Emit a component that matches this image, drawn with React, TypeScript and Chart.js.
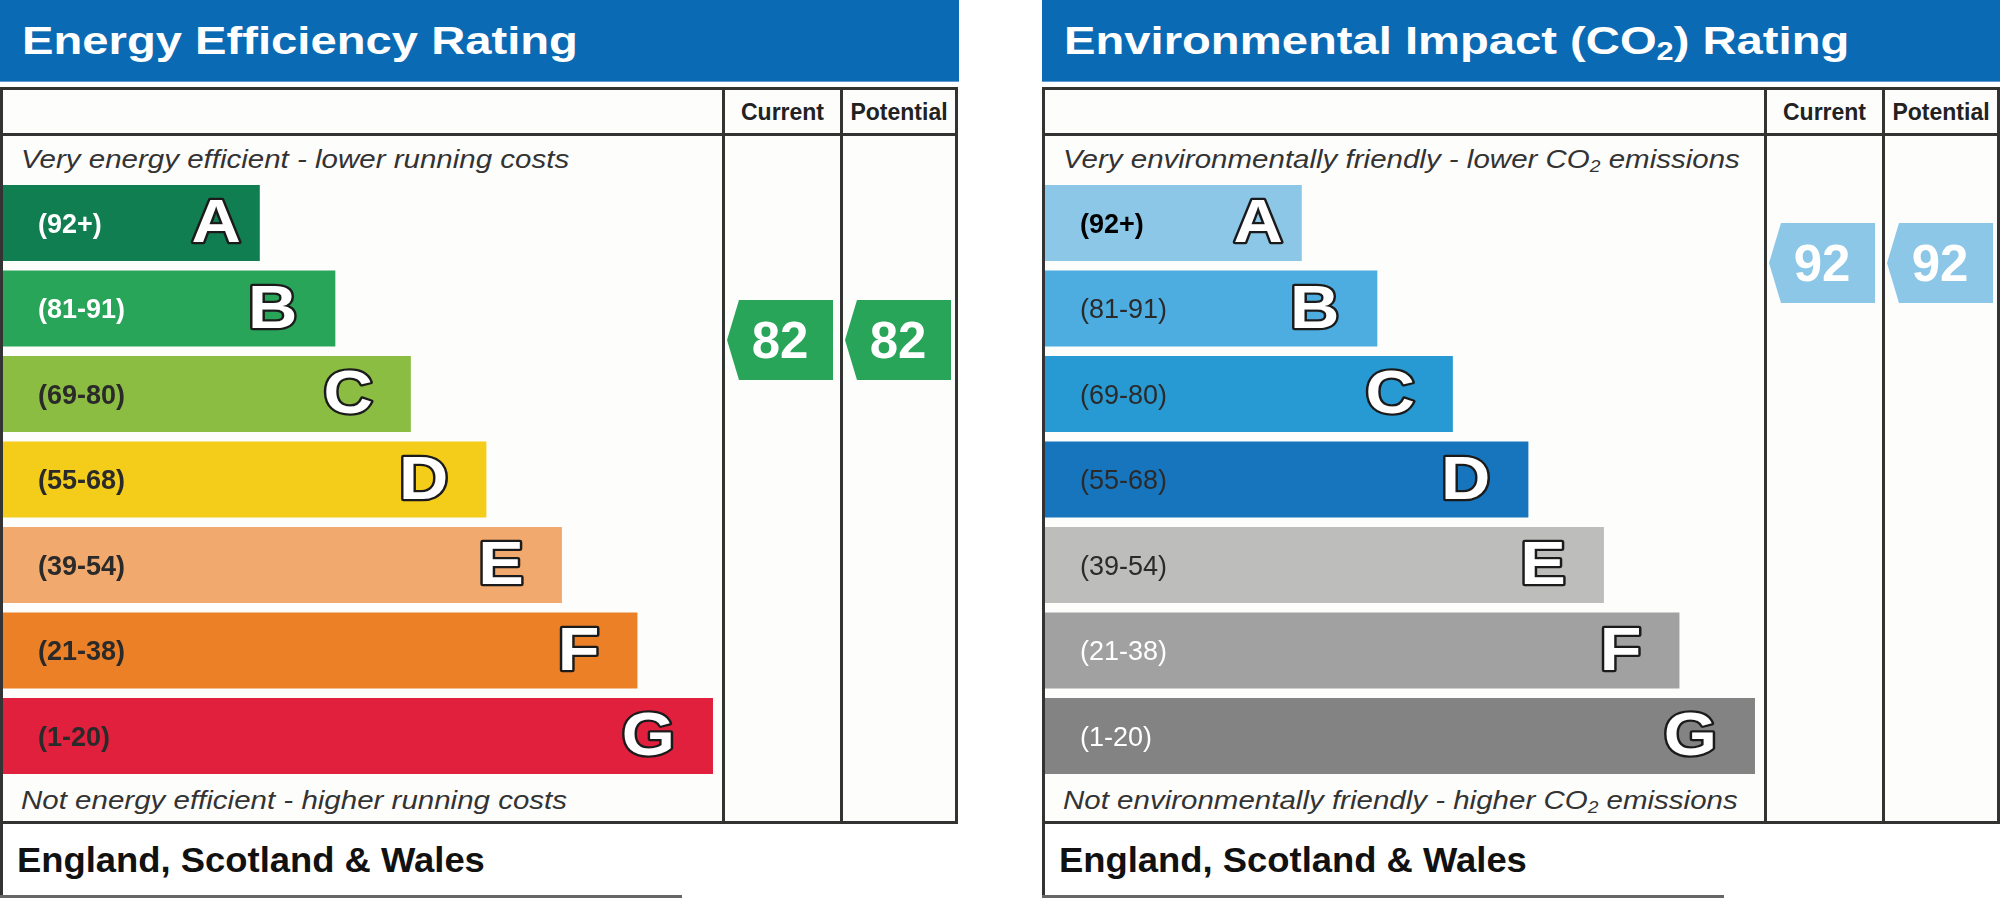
import React, { useEffect, useRef } from 'react'
import { Chart, registerables } from 'chart.js'

Chart.register(...registerables)

// band data, shared by both ratings
const BAND_LETTERS = ['A', 'B', 'C', 'D', 'E', 'F', 'G']
const BAND_RANGES = ['(92+)', '(81-91)', '(69-80)', '(55-68)', '(39-54)', '(21-38)', '(1-20)']
const BAND_MIN = [92, 81, 69, 55, 39, 21, 1]
const BAND_LENGTHS = [34, 44, 54, 64, 74, 84, 94]

const ENERGY_COLOURS = ['#107e51', '#29a55a', '#8cbd43', '#f4cc1a', '#f1a96d', '#ec8027', '#e1203d']
const ENERGY_TEXT = ['#ffffff', '#ffffff', '#2a2a2a', '#2a2a2a', '#2a2a2a', '#2a2a2a', '#2a2a2a']
const ENERGY_WEIGHTS = ['bold', 'bold', 'bold', 'bold', 'bold', 'bold', 'bold']

const ENV_COLOURS = ['#8cc7e8', '#4dade0', '#289ad3', '#1675bd', '#bdbdbc', '#a1a1a1', '#838383']
const ENV_TEXT = ['#000000', '#2a2a2a', '#2a2a2a', '#2a2a2a', '#2a2a2a', '#ffffff', '#ffffff']
const ENV_WEIGHTS = ['bold', 'normal', 'normal', 'normal', 'normal', 'normal', 'normal']

const ENERGY_CURRENT = 82
const ENERGY_POTENTIAL = 82
const ENV_CURRENT = 92
const ENV_POTENTIAL = 92

// layout
const PANEL_W = 958
const TABLE_TOP = 87
const TABLE_BOTTOM = 824
const COL_CURRENT = 722
const COL_POTENTIAL = 840
const CANVAS_TOP = 136
const CANVAS_H = 687
const FONT = '"Liberation Sans", Arial, Helvetica, sans-serif'

const bandText = {
  id: 'bandText',
  afterDatasetsDraw(chart: any, _args: any, opts: any) {
    const { ctx } = chart
    const meta = chart.getDatasetMeta(0)
    meta.data.forEach((bar: any, i: number) => {
      const { x, y, base } = bar.getProps(['x', 'y', 'base'], true)
      ctx.save()
      ctx.textBaseline = 'alphabetic'
      ctx.textAlign = 'left'
      ctx.font = `${opts.weights[i]} 27px ${FONT}`
      ctx.fillStyle = opts.textColours[i]
      ctx.fillText(BAND_RANGES[i], base + 35, y + 9.5)

      // big band letter, white with a dark outline, slightly widened
      const lx = x - (i === 0 ? 19 : 38)
      const ly = y + 19
      ctx.translate(lx, ly)
      ctx.scale(1.12, 1)
      ctx.font = `bold 61px ${FONT}`
      ctx.textAlign = 'right'
      ctx.lineJoin = 'round'
      ctx.lineWidth = 4.5
      ctx.strokeStyle = '#1b1b1b'
      ctx.strokeText(BAND_LETTERS[i], 0, 0)
      ctx.fillStyle = '#ffffff'
      ctx.fillText(BAND_LETTERS[i], 0, 0)
      ctx.restore()
    })
  },
}

const ratingArrows = {
  id: 'ratingArrows',
  afterDatasetsDraw(chart: any, _args: any, opts: any) {
    const { ctx } = chart
    const scale = chart.scales.rating
    const cols = [COL_CURRENT, COL_POTENTIAL]
    const values = [opts.current, opts.potential]
    values.forEach((v: number, i: number) => {
      const cy = scale.getPixelForValue(v)
      const left = cols[i] + 5
      const w = 106
      const h = 80
      const notch = 12
      const band = BAND_MIN.findIndex(m => v >= m)
      ctx.save()
      ctx.beginPath()
      ctx.moveTo(left + notch, cy - h / 2)
      ctx.lineTo(left + w, cy - h / 2)
      ctx.lineTo(left + w, cy + h / 2)
      ctx.lineTo(left + notch, cy + h / 2)
      ctx.lineTo(left, cy)
      ctx.closePath()
      ctx.fillStyle = opts.colours[band]
      ctx.fill()
      ctx.font = `bold 51px ${FONT}`
      ctx.fillStyle = '#ffffff'
      ctx.textAlign = 'center'
      ctx.textBaseline = 'alphabetic'
      ctx.fillText(String(v), left + w / 2, cy + 18)
      ctx.restore()
    })
  },
}

interface PanelProps {
  left: number
  titleWidth: number
  title: React.ReactNode
  topNote: React.ReactNode
  bottomNote: React.ReactNode
  colours: string[]
  textColours: string[]
  weights: string[]
  current: number
  potential: number
}

function RatingPanel(p: PanelProps) {
  const canvasRef = useRef<HTMLCanvasElement>(null)
  const chartRef = useRef<Chart | null>(null)

  useEffect(() => {
    if (!canvasRef.current) return
    chartRef.current?.destroy()

    chartRef.current = new Chart(canvasRef.current, {
      type: 'bar',
      data: {
        labels: BAND_LETTERS,
        datasets: [{
          data: BAND_LENGTHS,
          backgroundColor: p.colours,
          borderWidth: 0,
          barPercentage: 0.89,
          categoryPercentage: 1,
        }],
      },
      options: {
        indexAxis: 'y',
        responsive: false,
        animation: false,
        events: [],
        layout: { padding: { left: 3, right: PANEL_W - 3 - 755.3, top: 44.25, bottom: 44.25 } },
        plugins: {
          legend: { display: false },
          tooltip: { enabled: false },
          bandText: { textColours: p.textColours, weights: p.weights },
          ratingArrows: { current: p.current, potential: p.potential, colours: p.colours },
        } as any,
        scales: {
          x: { type: 'linear', min: 0, max: 100, display: false },
          y: { type: 'category', display: false },
          // rating scale for the arrows; offset off so the ends map exactly
          rating: {
            type: 'linear', axis: 'y', position: 'right',
            min: 25, max: 102.75, offset: false, display: false,
          },
        } as any,
      },
      plugins: [bandText, ratingArrows],
    })

    return () => {
      chartRef.current?.destroy()
      chartRef.current = null
    }
  }, [p.colours, p.textColours, p.weights, p.current, p.potential])

  const abs = (style: React.CSSProperties): React.CSSProperties => ({ position: 'absolute', ...style })

  return (
    <>
      {/* title bar */}
      <div style={abs({
        left: p.left, top: 0, width: p.titleWidth, height: 82, background: '#0b6ab4',
        borderBottom: '1px solid #5f9bd3', boxSizing: 'border-box',
      })}>
        <div style={abs({
          left: 22, top: 18, whiteSpace: 'nowrap', color: '#fff',
          font: `bold 39px/46px ${FONT}`, transform: 'scaleX(1.21)', transformOrigin: 'left center',
        })}>
          {p.title}
        </div>
      </div>

      {/* table frame */}
      <div style={abs({
        left: p.left, top: TABLE_TOP, width: PANEL_W, height: TABLE_BOTTOM - TABLE_TOP,
        border: '3px solid #333', boxSizing: 'border-box', background: '#fdfdfc',
      })} />
      <div style={abs({ left: p.left, top: 133, width: PANEL_W, height: 3, background: '#333' })} />
      <div style={abs({ left: p.left + COL_CURRENT, top: TABLE_TOP, width: 3, height: TABLE_BOTTOM - TABLE_TOP, background: '#333' })} />
      <div style={abs({ left: p.left + COL_POTENTIAL, top: TABLE_TOP, width: 3, height: TABLE_BOTTOM - TABLE_TOP, background: '#333' })} />

      {/* column headers */}
      {[['Current', COL_CURRENT, COL_POTENTIAL], ['Potential', COL_POTENTIAL, PANEL_W - 3]].map(([label, a, b]) => (
        <div key={label as string} style={abs({
          left: p.left + (a as number) + 3, width: (b as number) - (a as number) - 3, top: 98,
          textAlign: 'center', font: `bold 23px/28px ${FONT}`, color: '#222',
        })}>
          {label}
        </div>
      ))}

      {/* notes */}
      <div style={abs({
        left: p.left + 21, top: 144, whiteSpace: 'nowrap', color: '#333',
        font: `italic 25px/30px ${FONT}`, transform: 'scaleX(1.18)', transformOrigin: 'left center',
      })}>
        {p.topNote}
      </div>
      <div style={abs({
        left: p.left + 21, top: 785, whiteSpace: 'nowrap', color: '#333',
        font: `italic 25px/30px ${FONT}`, transform: 'scaleX(1.18)', transformOrigin: 'left center',
      })}>
        {p.bottomNote}
      </div>

      {/* bars + arrows */}
      <canvas
        ref={canvasRef}
        width={PANEL_W}
        height={CANVAS_H}
        style={abs({ left: p.left, top: CANVAS_TOP, width: PANEL_W, height: CANVAS_H })}
      />

      {/* footer */}
      <div style={abs({ left: p.left, top: 823, width: 3, height: 75, background: '#333' })} />
      <div style={abs({ left: p.left, top: 895, width: 682, height: 3, background: '#666' })} />
      <div style={abs({
        left: p.left + 17, top: 840, whiteSpace: 'nowrap', color: '#111',
        font: `bold 35px/40px ${FONT}`, transform: 'scaleX(1.04)', transformOrigin: 'left center',
      })}>
        England, Scotland &amp; Wales
      </div>
    </>
  )
}

const Sub2 = () => (
  <span style={{ fontSize: '0.65em', position: 'relative', top: '0.22em' }}>2</span>
)

export default function App() {
  return (
    <div style={{
      position: 'absolute', left: 0, top: 0, width: 2000, height: 899,
      background: '#ffffff', overflow: 'hidden', fontFamily: FONT,
    }}>
      <RatingPanel
        left={0}
        titleWidth={959}
        title="Energy Efficiency Rating"
        topNote="Very energy efficient - lower running costs"
        bottomNote="Not energy efficient - higher running costs"
        colours={ENERGY_COLOURS}
        textColours={ENERGY_TEXT}
        weights={ENERGY_WEIGHTS}
        current={ENERGY_CURRENT}
        potential={ENERGY_POTENTIAL}
      />
      <RatingPanel
        left={1042}
        titleWidth={958}
        title={<>Environmental Impact (CO<Sub2 />) Rating</>}
        topNote={<>Very environmentally friendly - lower CO<Sub2 /> emissions</>}
        bottomNote={<>Not environmentally friendly - higher CO<Sub2 /> emissions</>}
        colours={ENV_COLOURS}
        textColours={ENV_TEXT}
        weights={ENV_WEIGHTS}
        current={ENV_CURRENT}
        potential={ENV_POTENTIAL}
      />
    </div>
  )
}
